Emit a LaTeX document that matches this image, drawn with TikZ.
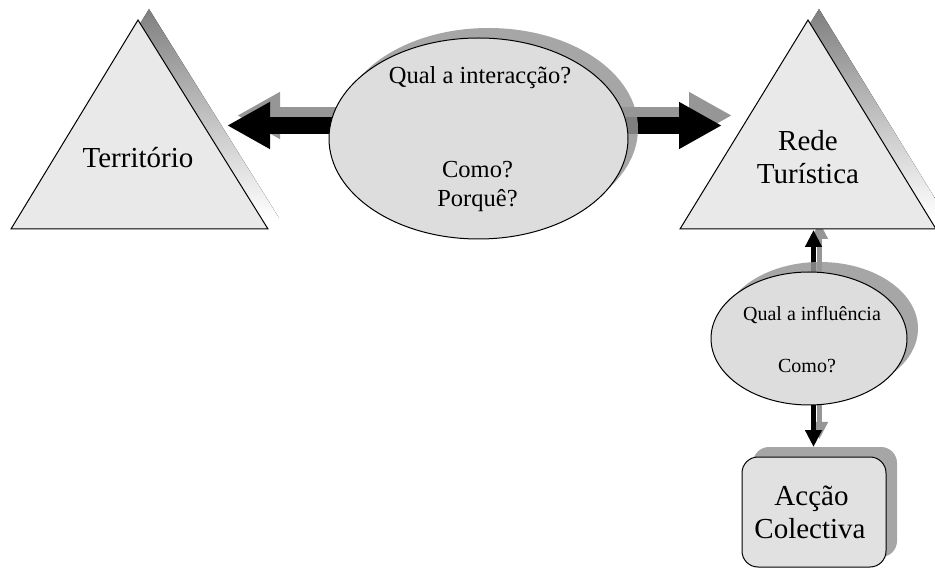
\documentclass[tikz,border=0pt]{standalone}
\usepackage{fontspec}
\setmainfont{Liberation Serif}
\usetikzlibrary{shapes.geometric,arrows.meta}

\definecolor{shade}{RGB}{150,150,150}
\definecolor{trifill}{RGB}{233,233,233}
\definecolor{ovalfill}{RGB}{221,221,221}
\definecolor{boxfill}{RGB}{225,225,225}

\pgfdeclarelayer{back}
\pgfdeclarelayer{mid}
\pgfsetlayers{back,mid,main}

\tikzset{
  outline/.style={draw=black, line width=1pt},
  shadowfill/.style={fill=shade, draw=none, opacity=0.85},
  oval/.style={ellipse, inner sep=0pt, outline, fill=ovalfill},
  ovalshade/.style={ellipse, inner sep=0pt, shadowfill},
  roundbox/.style={rectangle, rounded corners=16pt, inner sep=0pt, outline, fill=boxfill},
  roundshade/.style={rectangle, rounded corners=16pt, inner sep=0pt, shadowfill},
  bigtxt/.style={inner sep=0pt, anchor=base, font=\fontsize{29}{34}\selectfont},
  midtxt/.style={inner sep=0pt, anchor=base, font=\fontsize{24.5}{29}\selectfont},
  smalltxt/.style={inner sep=0pt, anchor=base, font=\fontsize{20}{24}\selectfont},
  fatarrow/.style={line width=17pt, -{Triangle[length=43pt,width=44pt]}},
  thinarrow/.style={line width=5pt, -{Triangle[length=17pt,width=16pt]}},
  castshadow/.style={draw=shade, color=shade, transform canvas={xshift=10pt,yshift=10pt}},
  smallshadow/.style={draw=shade, color=shade, transform canvas={xshift=6pt,yshift=8pt}}
}

\begin{document}
\begin{tikzpicture}[x=1pt,y=-1pt]
\useasboundingbox (0,0) rectangle (935,569);
\clip (0,0) rectangle (935,569);

% triangles and their cast shadows
\begin{pgfonlayer}{back}
  \fill[shade] (149,9) -- (22,218) -- (279,218) -- cycle;
  \fill[shade] (819,9) -- (691,218) -- (947,218) -- cycle;
\end{pgfonlayer}
\begin{pgfonlayer}{mid}
  \draw[outline, fill=trifill] (138,20) -- (11,229) -- (268,229) -- cycle;
  \draw[outline, fill=trifill] (808,20) -- (680,229) -- (936,229) -- cycle;
\end{pgfonlayer}

% central question oval
\node[ovalshade, minimum width=299pt, minimum height=201pt] (q1s) at (488.5,128.5) {};
\node[oval, minimum width=299pt, minimum height=201pt] (q1) at (478.5,138.5) {};

% lower question oval
\node[ovalshade, minimum width=196pt, minimum height=133pt] (q2s) at (820,328.5) {};
\node[oval, minimum width=196pt, minimum height=133pt] (q2) at (809,338.5) {};

% collective action box
\node[roundshade, minimum width=144pt, minimum height=110pt] (boxs) at (825,502) {};
\node[roundbox, minimum width=144pt, minimum height=110pt] (box) at (814,512) {};

% arrow end points
\coordinate (tipL) at (227,125.5);
\coordinate (tipR) at (722,125.5);
\coordinate (tipU) at (813.5,230);
\coordinate (tipD) at (813.5,447);

% connectors
\begin{pgfonlayer}{back}
  \draw[fatarrow, castshadow] (q1.center |- tipL) -- (tipL);
  \draw[fatarrow, castshadow] (q1.center |- tipR) -- (tipR);
  \draw[thinarrow, smallshadow] (q2.center -| tipU) -- (tipU);
  \draw[thinarrow, smallshadow] (q2.center -| tipD) -- (tipD);
\end{pgfonlayer}
\begin{pgfonlayer}{mid}
  \draw[fatarrow] (q1.center |- tipL) -- (tipL);
  \draw[fatarrow] (q1.center |- tipR) -- (tipR);
  \draw[thinarrow] (q2.center -| tipU) -- (tipU);
  \draw[thinarrow] (q2.center -| tipD) -- (tipD);
\end{pgfonlayer}

% labels
\node[bigtxt] (terr) at (138,167.5) {Território};
\node[bigtxt] (rede) at (808,150.5) {Rede};
\node[bigtxt] (turi) at (808,183.5) {Turística};
\node[midtxt] (qa) at (480,83.5) {Qual a interacção?};
\node[midtxt] (qb) at (477.5,178) {Como?};
\node[midtxt] (qc) at (477.5,207) {Porquê?};
\node[smalltxt] (ia) at (812,321) {Qual a influência};
\node[smalltxt] (ib) at (807,372.5) {Como?};
\node[bigtxt] (aa) at (811.5,505) {Acção};
\node[bigtxt] (ab) at (810,538) {Colectiva};
\end{tikzpicture}
\end{document}
